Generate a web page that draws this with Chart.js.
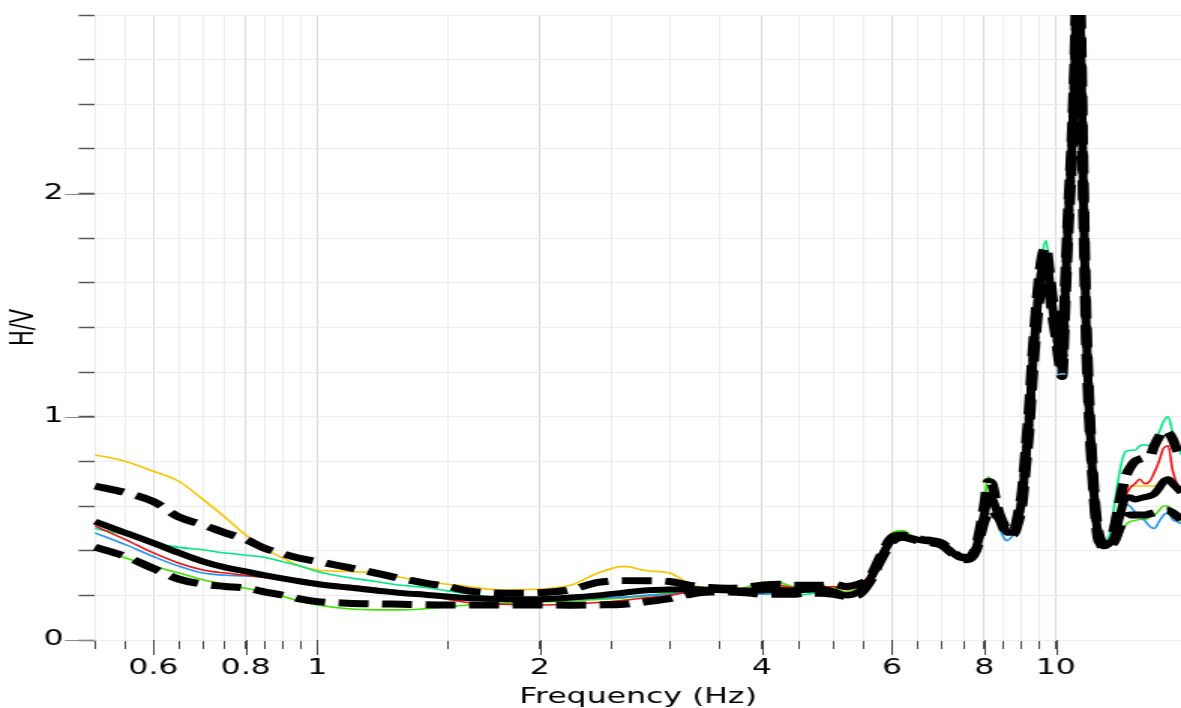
<!DOCTYPE html>
<html>
<head>
<meta charset="utf-8">
<title>H/V curves</title>
<script src="https://cdn.jsdelivr.net/npm/chart.js"></script>
<style>
  html, body { margin: 0; padding: 0; background: #fff; }
  /* the reference is stretched sideways, so the canvas is drawn narrow and widened */
  #hv { display: block; width: 1181px !important; height: 708px !important; }
</style>
</head>
<body>
<canvas id="hv" width="787" height="708" style="width:1181px;height:708px;"></canvas>
<script>
// frequencies (Hz) shared by every curve
const freq = [
  0.5, 0.55, 0.6, 0.65, 0.7, 0.75, 0.8, 0.85, 0.9, 0.95,
  1.0, 1.1, 1.2, 1.3, 1.4, 1.5, 1.6, 1.7, 1.8, 1.9,
  2.0, 2.2, 2.4, 2.6, 2.8, 3.0,
  3.2, 3.4, 3.6, 3.8, 4.0, 4.2, 4.4, 4.6, 4.8, 5.0,
  5.2, 5.4, 5.6, 5.8, 6.0, 6.2, 6.4, 6.6, 6.8, 7.0, 7.2, 7.4, 7.6, 7.8, 8.0,
  8.1, 8.2, 8.3, 8.4, 8.5, 8.6, 8.7, 8.8, 8.9, 9.0,
  9.1, 9.2, 9.3, 9.4, 9.5, 9.6, 9.7, 9.8, 9.9, 10.0,
  10.1, 10.2, 10.3, 10.4, 10.5, 10.6, 10.7, 10.8, 10.9, 11.0,
  11.1, 11.2, 11.3, 11.4, 11.5, 11.6,
  11.8, 12.0, 12.2, 12.4, 12.6, 12.8, 13.0, 13.2, 13.4, 13.6, 13.8, 14.0, 14.2, 14.4, 14.6, 14.8
];

// average H/V (thick solid black)
const hvMean = [
  0.53, 0.48, 0.434, 0.39, 0.352, 0.325, 0.307, 0.29, 0.275, 0.262,
  0.251, 0.235, 0.222, 0.21, 0.203, 0.195, 0.188, 0.185, 0.183, 0.183,
  0.183, 0.19, 0.2, 0.212, 0.223, 0.226,
  0.228, 0.225, 0.222, 0.222, 0.222, 0.225, 0.222, 0.225, 0.228, 0.218,
  0.2, 0.215, 0.27, 0.37, 0.45, 0.465, 0.455, 0.445, 0.44, 0.43, 0.4, 0.37, 0.365, 0.41, 0.56,
  0.63, 0.63, 0.59, 0.55, 0.51, 0.48, 0.48, 0.49, 0.55, 0.63,
  0.8, 0.98, 1.22, 1.42, 1.58, 1.68, 1.72, 1.62, 1.49, 1.4,
  1.29, 1.22, 1.55, 1.88, 2.15, 2.5, 2.95, 2.75, 2.0, 1.38,
  1.03, 0.78, 0.6, 0.48, 0.44, 0.42,
  0.43, 0.46, 0.55, 0.63, 0.64, 0.63, 0.635, 0.64, 0.645, 0.655, 0.68, 0.71, 0.72, 0.7, 0.68, 0.66
];

// upper standard deviation (thick dashed black)
const hvUpper = [
  0.69, 0.66, 0.62, 0.55, 0.516, 0.48, 0.45, 0.41, 0.385, 0.365,
  0.352, 0.325, 0.3, 0.275, 0.255, 0.24, 0.22, 0.212, 0.21, 0.21,
  0.212, 0.225, 0.258, 0.266, 0.266, 0.262,
  0.245, 0.235, 0.232, 0.236, 0.245, 0.25, 0.245, 0.245, 0.245, 0.25,
  0.24, 0.25, 0.28, 0.38, 0.46, 0.47, 0.46, 0.45, 0.445, 0.435, 0.405, 0.375, 0.37, 0.42, 0.6,
  0.71, 0.7, 0.62, 0.56, 0.52, 0.49, 0.49, 0.5, 0.57, 0.66,
  0.84, 1.03, 1.27, 1.47, 1.63, 1.73, 1.76, 1.66, 1.53, 1.43,
  1.32, 1.27, 1.6, 1.93, 2.2, 2.56, 3.05, 2.85, 2.08, 1.44,
  1.07, 0.81, 0.62, 0.5, 0.45, 0.43,
  0.44, 0.5, 0.62, 0.72, 0.77, 0.8, 0.81, 0.815, 0.82, 0.87, 0.91, 0.94, 0.93, 0.9, 0.85, 0.82
];

// lower standard deviation (thick dashed black)
const hvLower = [
  0.416, 0.374, 0.32, 0.272, 0.25, 0.24, 0.232, 0.215, 0.2, 0.183,
  0.172, 0.165, 0.162, 0.16, 0.158, 0.157, 0.157, 0.157, 0.157, 0.157,
  0.157, 0.156, 0.157, 0.16, 0.172, 0.185,
  0.205, 0.215, 0.215, 0.212, 0.205, 0.205, 0.205, 0.21, 0.21, 0.205,
  0.195, 0.2, 0.26, 0.36, 0.44, 0.46, 0.45, 0.44, 0.435, 0.425, 0.395, 0.365, 0.36, 0.4, 0.53,
  0.57, 0.58, 0.56, 0.54, 0.5, 0.47, 0.47, 0.48, 0.53, 0.6,
  0.76, 0.93, 1.17, 1.37, 1.53, 1.63, 1.67, 1.57, 1.45, 1.36,
  1.25, 1.18, 1.5, 1.83, 2.1, 2.44, 2.85, 2.65, 1.93, 1.33,
  0.99, 0.76, 0.58, 0.46, 0.43, 0.41,
  0.42, 0.44, 0.5, 0.55, 0.56, 0.56, 0.56, 0.56, 0.565, 0.57, 0.575, 0.58, 0.58, 0.57, 0.555, 0.54
];

// single windows / components (thin coloured)
const hvYellow = [
  0.83, 0.8, 0.756, 0.71, 0.63, 0.55, 0.47, 0.41, 0.365, 0.33,
  0.314, 0.307, 0.3, 0.28, 0.262, 0.25, 0.24, 0.228, 0.224, 0.226,
  0.228, 0.245, 0.3, 0.33, 0.31, 0.3,
  0.25, 0.23, 0.225, 0.22, 0.225, 0.24, 0.235, 0.23, 0.235, 0.235,
  0.21, 0.225, 0.27, 0.37, 0.45, 0.465, 0.455, 0.445, 0.44, 0.43, 0.4, 0.37, 0.365, 0.41, 0.56,
  0.64, 0.63, 0.58, 0.55, 0.51, 0.48, 0.48, 0.49, 0.55, 0.63,
  0.8, 0.98, 1.22, 1.42, 1.58, 1.68, 1.72, 1.63, 1.5, 1.41,
  1.3, 1.24, 1.58, 1.92, 2.2, 2.56, 3.05, 2.85, 2.05, 1.4,
  1.04, 0.8, 0.6, 0.48, 0.44, 0.43,
  0.44, 0.46, 0.58, 0.68, 0.69, 0.69, 0.69, 0.69, 0.69, 0.69, 0.7, 0.72, 0.72, 0.69, 0.67, 0.66
];

const hvCyan = [
  0.5, 0.47, 0.434, 0.415, 0.404, 0.39, 0.38, 0.37, 0.35, 0.33,
  0.307, 0.28, 0.262, 0.245, 0.235, 0.22, 0.207, 0.195, 0.185, 0.18,
  0.18, 0.182, 0.187, 0.19, 0.2, 0.21,
  0.22, 0.22, 0.222, 0.218, 0.21, 0.205, 0.2, 0.205, 0.215, 0.22,
  0.2, 0.215, 0.27, 0.37, 0.455, 0.47, 0.46, 0.445, 0.44, 0.43, 0.4, 0.37, 0.365, 0.42, 0.6,
  0.73, 0.7, 0.62, 0.56, 0.51, 0.48, 0.48, 0.49, 0.56, 0.65,
  0.82, 1.0, 1.25, 1.46, 1.63, 1.74, 1.79, 1.68, 1.53, 1.42,
  1.3, 1.25, 1.6, 1.95, 2.25, 2.62, 3.15, 2.92, 2.1, 1.42,
  1.06, 0.82, 0.62, 0.5, 0.45, 0.44,
  0.46, 0.6, 0.75, 0.84, 0.85, 0.85, 0.87, 0.875, 0.87, 0.9, 0.93, 0.98, 1.0, 0.93, 0.87, 0.83
];

const hvRed = [
  0.51, 0.45, 0.39, 0.344, 0.314, 0.3, 0.29, 0.28, 0.272, 0.262,
  0.255, 0.245, 0.232, 0.215, 0.2, 0.183, 0.168, 0.162, 0.16, 0.158,
  0.157, 0.16, 0.168, 0.178, 0.19, 0.2,
  0.215, 0.22, 0.22, 0.225, 0.24, 0.245, 0.235, 0.23, 0.235, 0.24,
  0.225, 0.245, 0.29, 0.38, 0.45, 0.465, 0.455, 0.44, 0.435, 0.43, 0.4, 0.37, 0.365, 0.41, 0.56,
  0.62, 0.62, 0.58, 0.55, 0.52, 0.5, 0.49, 0.49, 0.55, 0.62,
  0.8, 0.97, 1.2, 1.4, 1.56, 1.62, 1.6, 1.52, 1.42, 1.35,
  1.28, 1.24, 1.55, 1.87, 2.14, 2.48, 2.9, 2.7, 1.98, 1.37,
  1.02, 0.79, 0.6, 0.48, 0.44, 0.43,
  0.43, 0.44, 0.5, 0.63, 0.68, 0.7, 0.72, 0.7, 0.71, 0.75, 0.8, 0.86, 0.87, 0.76, 0.7, 0.68
];

const hvBlue = [
  0.48, 0.427, 0.374, 0.33, 0.3, 0.29, 0.287, 0.28, 0.272, 0.262,
  0.255, 0.242, 0.23, 0.22, 0.21, 0.195, 0.183, 0.178, 0.175, 0.174,
  0.175, 0.18, 0.187, 0.192, 0.2, 0.205,
  0.215, 0.22, 0.22, 0.215, 0.205, 0.21, 0.21, 0.215, 0.22, 0.2,
  0.19, 0.21, 0.26, 0.36, 0.45, 0.465, 0.455, 0.45, 0.445, 0.43, 0.4, 0.37, 0.365, 0.41, 0.55,
  0.62, 0.6, 0.55, 0.5, 0.46, 0.445, 0.46, 0.48, 0.55, 0.63,
  0.78, 0.96, 1.2, 1.42, 1.6, 1.68, 1.66, 1.55, 1.42, 1.3,
  1.2, 1.17, 1.5, 1.85, 2.12, 2.46, 2.88, 2.7, 1.97, 1.36,
  1.01, 0.78, 0.59, 0.47, 0.43, 0.41,
  0.43, 0.48, 0.58, 0.61, 0.6, 0.575, 0.56, 0.535, 0.51, 0.5, 0.53, 0.56, 0.57, 0.54, 0.53, 0.52
];

const hvGreen = [
  0.42, 0.367, 0.33, 0.3, 0.27, 0.25, 0.232, 0.215, 0.195, 0.172,
  0.157, 0.14, 0.135, 0.135, 0.14, 0.148, 0.157, 0.162, 0.165, 0.168,
  0.17, 0.175, 0.182, 0.188, 0.198, 0.21,
  0.225, 0.228, 0.225, 0.235, 0.258, 0.258, 0.24, 0.235, 0.24, 0.235,
  0.215, 0.23, 0.27, 0.38, 0.48, 0.49, 0.465, 0.445, 0.44, 0.43, 0.4, 0.37, 0.365, 0.42, 0.6,
  0.73, 0.69, 0.6, 0.55, 0.51, 0.48, 0.48, 0.49, 0.55, 0.64,
  0.81, 0.99, 1.22, 1.43, 1.58, 1.66, 1.68, 1.58, 1.47, 1.38,
  1.28, 1.23, 1.54, 1.87, 2.14, 2.5, 2.95, 2.75, 2.0, 1.38,
  1.03, 0.8, 0.6, 0.48, 0.44, 0.42,
  0.43, 0.44, 0.46, 0.51, 0.53, 0.535, 0.54, 0.54, 0.55, 0.56, 0.58, 0.6, 0.6, 0.57, 0.55, 0.53
];

// axis ticks
const xTicks = [0.5, 0.55, 0.6, 0.65, 0.7, 0.75, 0.8, 0.85, 0.9, 0.95,
  1, 1.5, 2, 2.5, 3, 3.5, 4, 4.5, 5, 5.5, 6, 6.5, 7, 7.5, 8, 8.5, 9, 9.5, 10];
const xLabels = [0.6, 0.8, 1, 2, 4, 6, 8, 10];
const yLabels = [0, 1, 2];

const FONT = 'DejaVu Sans';

const isXLabel = v => xLabels.some(l => Math.abs(l - v) < 1e-6);
const isYLabel = v => yLabels.some(l => Math.abs(l - v) < 1e-6);

const curve = (vals, color, width, dash) => ({
  data: freq.map((f, i) => ({ x: f, y: vals[i] })),
  borderColor: color,
  borderWidth: width,
  borderDash: dash || [],
  borderJoinStyle: 'round',
  pointRadius: 0,
  fill: false,
  cubicInterpolationMode: 'monotone',
  clip: { left: 10, top: 0, right: 0, bottom: 10 }
});

// longer marks under the labelled ticks
const majorTicks = {
  id: 'majorTicks',
  afterDraw(chart) {
    const { ctx, chartArea } = chart;
    const x = chart.scales.x, y = chart.scales.y;
    ctx.save();
    ctx.lineWidth = 1;
    ctx.strokeStyle = '#444';
    xLabels.forEach(v => {
      const px = Math.round(x.getPixelForValue(v)) + 0.5;
      ctx.beginPath();
      ctx.moveTo(px, chartArea.bottom);
      ctx.lineTo(px, chartArea.bottom + 15);
      ctx.stroke();
    });
    ctx.strokeStyle = '#888';
    yLabels.forEach(v => {
      const py = Math.round(y.getPixelForValue(v)) + 0.5;
      ctx.beginPath();
      ctx.moveTo(chartArea.left - 20, py);
      ctx.lineTo(chartArea.left, py);
      ctx.stroke();
    });
    ctx.restore();
  }
};

new Chart(document.getElementById('hv'), {
  type: 'line',
  data: {
    datasets: [
      curve(hvMean, '#000000', 6),
      curve(hvUpper, '#000000', 7, [20, 9]),
      curve(hvLower, '#000000', 7, [20, 9]),
      curve(hvRed, '#ee1111', 1.6),
      curve(hvBlue, '#2296f0', 1.6),
      curve(hvGreen, '#44e000', 1.6),
      curve(hvCyan, '#00e882', 1.6),
      curve(hvYellow, '#f7c600', 1.6)
    ]
  },
  options: {
    responsive: false,
    devicePixelRatio: 1,
    animation: false,
    events: [],
    layout: { padding: { top: 15, right: 0, bottom: 0, left: 0 } },
    plugins: { legend: { display: false }, tooltip: { enabled: false } },
    scales: {
      x: {
        type: 'logarithmic',
        bounds: 'data',
        min: 0.5,
        max: 14.78,
        afterBuildTicks: s => { s.ticks = xTicks.map(v => ({ value: v })); },
        afterFit: s => { s.height = 68; s.paddingLeft = 0; s.paddingRight = 0; },
        border: { display: false },
        grid: {
          color: c => isXLabel(c.tick.value) ? '#dadada' : '#ececec',
          lineWidth: 1,
          tickLength: 9,
          tickColor: '#444'
        },
        ticks: {
          autoSkip: false,
          maxRotation: 0,
          minRotation: 0,
          padding: 7,
          color: '#000',
          font: { family: FONT, size: 21 },
          callback: v => isXLabel(v) ? String(v) : ''
        },
        title: {
          display: true,
          text: 'Frequency (Hz)',
          color: '#000',
          font: { family: FONT, size: 21 },
          padding: { top: 0, bottom: -2 }
        }
      },
      y: {
        type: 'linear',
        min: 0,
        max: 2.8,
        afterFit: s => { s.width = 63.3; s.paddingTop = 0; s.paddingBottom = 0; },
        border: { display: false },
        grid: {
          color: '#ececec',
          lineWidth: 1,
          tickLength: 11,
          tickColor: '#555',
          tickWidth: 1.5
        },
        ticks: {
          stepSize: 0.2,
          autoSkip: false,
          padding: 10,
          color: '#000',
          font: { family: FONT, size: 21 },
          callback: v => isYLabel(v) ? String(Math.round(v)) : ''
        },
        title: {
          display: true,
          text: 'H/V',
          color: '#000',
          font: { family: FONT, size: 21 },
          padding: { top: 4, bottom: 0 }
        }
      }
    }
  },
  plugins: [majorTicks]
});
</script>
</body>
</html>
